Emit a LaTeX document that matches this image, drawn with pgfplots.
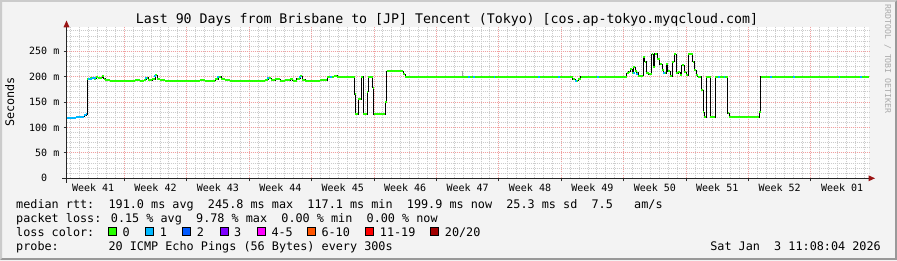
\documentclass[border=0pt]{standalone}
\usepackage{fontspec}
\usepackage{pgfplots}
\pgfplotsset{compat=1.18}
\usepackage{pgfplotstable}
\newfontfamily\mono{DejaVu Sans Mono}
\definecolor{bgc}{HTML}{F3F3F3}
\definecolor{shadea}{HTML}{CBCBCB}
\definecolor{shadeb}{HTML}{999999}
\definecolor{mgrid}{HTML}{F2A0A0}
\definecolor{mingrid}{HTML}{CCCCCC}
\definecolor{arrowc}{HTML}{9A1414}
\definecolor{wmc}{HTML}{AAAAAA}
\definecolor{loss0}{HTML}{26FF00}
\definecolor{loss1}{HTML}{00B8FF}
\definecolor{loss2}{HTML}{0059FF}
\definecolor{loss3}{HTML}{7E00FF}
\definecolor{loss4}{HTML}{FF00FF}
\definecolor{loss6}{HTML}{FF5500}
\definecolor{loss11}{HTML}{FF0000}
\definecolor{loss20}{HTML}{A10000}
\newcommand\titlefont{\mono\fontsize{13.25bp}{15bp}\selectfont}
\newcommand\legfont{\mono\fontsize{11.8bp}{14bp}\selectfont}
\newcommand\tickfont{\mono\fontsize{10bp}{12bp}\selectfont}
\newcommand\wmfont{\mono\fontsize{8.2bp}{10bp}\selectfont}

\pgfplotstableread{
x y
0.06 119
0.39 118
0.73 119
1.07 120
1.40 120
1.74 121
1.96 124
2.19 126
2.33 195
2.64 197
2.86 198
3.08 196
3.31 199
3.53 197
3.76 198
3.98 202
4.15 196
4.32 193
4.88 192
5.44 191
6.00 192
6.56 191
7.12 192
7.68 193
8.24 192
8.69 194
8.92 198
9.14 193
9.59 195
9.93 203
10.15 195
10.49 193
11.05 192
11.61 191
12.17 192
12.73 192
13.29 191
13.85 192
14.41 192
14.97 193
15.53 192
16.09 192
16.65 195
16.99 200
17.33 195
17.78 193
18.34 192
18.90 191
19.46 192
20.02 192
20.58 191
21.14 192
21.70 192
22.26 194
22.60 197
22.93 193
23.38 195
23.94 192
24.50 193
25.06 195
25.39 192
25.84 196
26.19 201
26.41 194
26.75 192
27.31 192
27.87 192
28.43 193
28.99 193
29.21 199
29.55 200
30.00 202
30.34 200
31.23 200
32.19 200
32.30 165
32.41 126
32.73 155
33.08 200
33.29 126
33.70 170
33.85 200
34.32 178
34.43 126
35.75 150
35.91 211
36.84 212
37.59 211
37.74 205
37.96 200
39.70 200
44.36 200
48.61 200
53.10 200
56.58 200
56.75 195
57.03 192
57.36 196
57.65 200
62.75 200
62.83 207
63.03 210
63.20 214
63.42 207
63.57 218
63.76 212
63.93 208
64.09 201
64.43 202
64.68 239
64.87 229
65.04 207
65.32 205
65.62 244
65.80 219
65.99 245
66.22 234
66.55 224
66.78 213
67.00 207
67.23 224
67.45 211
67.68 201
67.90 229
68.13 244
68.35 207
68.58 209
68.80 203
68.99 222
69.25 209
69.48 203
69.73 244
70.04 244
70.21 229
70.38 213
70.60 203
70.77 200
71.10 200
71.21 173
71.38 130
71.49 120
71.77 200
72.17 200
72.22 120
72.78 200
74.04 200
74.13 128
74.30 120
77.59 120
77.66 130
77.85 200
90.00 200
}\medianrtt

\pgfplotstableread{
x y
0.06 119
0.39 118
0.73 119
1.07 120
1.40 120
1.74 121
1.96 124
2.19 126
2.33 126
nan nan
2.41 196
2.86 198
3.31 198
nan nan
8.80 197
9.03 197
nan nan
9.85 201
10.05 201
nan nan
16.90 199
17.10 199
nan nan
22.50 197
22.70 197
nan nan
26.10 200
26.30 200
nan nan
29.50 200
29.80 200
nan nan
44.98 200
45.30 200
nan nan
45.60 200
45.85 200
nan nan
47.90 200
48.10 200
nan nan
52.90 200
53.10 200
nan nan
55.10 200
55.30 200
nan nan
57.00 192
57.20 192
nan nan
59.50 200
59.70 200
nan nan
63.50 207
63.70 207
nan nan
63.90 205
64.10 205
nan nan
66.90 207
67.10 207
nan nan
73.10 200
73.30 200
nan nan
73.70 200
73.90 200
nan nan
78.90 200
79.10 200
nan nan
81.50 200
81.70 200
nan nan
86.60 200
86.80 200
nan nan
89.00 200
89.20 200
}\lossone

\begin{document}
\begin{tikzpicture}[x=1bp,y=1bp]
\useasboundingbox (0,0) rectangle (897,260);
\fill[bgc] (0,0) rectangle (897,260);
\fill[shadea] (0,0) -- (0,260) -- (897,260) -- (895,258) -- (2,258) -- (2,2) -- cycle;
\fill[shadeb] (0,0) -- (897,0) -- (897,260) -- (895,258) -- (895,2) -- (2,2) -- cycle;

\begin{axis}[
  at={(66.5bp,81.7bp)}, anchor=south west,
  scale only axis, width=802.5bp, height=150.8bp,
  xmin=0, xmax=90, ymin=0, ymax=296.6,
  axis background/.style={fill=white},
  axis line style={draw=none},
  tick pos=left, tick align=outside,
  major tick length=3bp, minor tick length=0pt,
  tick style={black!80, line width=0.8bp},
  grid=both,
  major grid style={mgrid, dash pattern=on 1bp off 1bp, line width=0.8bp},
  minor grid style={mingrid, dash pattern=on 1bp off 1bp, line width=0.8bp},
  xtick={6.48,13.48,...,83.48},
  minor xtick={0.48,1.48,...,89.48},
  xticklabels={,,,,,,,,,,,,},
  extra x ticks={2.98,9.98,...,86.98},
  extra x tick labels={Week 41,Week 42,Week 43,Week 44,Week 45,Week 46,Week 47,Week 48,Week 49,Week 50,Week 51,Week 52,Week 01},
  extra x tick style={grid=none, major tick length=0pt},
  xticklabel style={font=\tickfont, anchor=base, inner sep=0pt, yshift=-13bp},
  ytick={0,50,...,250},
  yticklabels={0\hphantom{00},50 m,100 m,150 m,200 m,250 m},
  minor ytick={10,20,...,290},
  yticklabel style={font=\tickfont, anchor=east, inner sep=0pt, xshift=-4bp},
  clip=false,
]
\addplot[gray!70, line width=0.8bp] coordinates {(44.36,200) (44.36,211)};
\addplot[black, line width=0.9bp, const plot mark left] table[x=x,y=y] {\medianrtt};
\addplot[loss0, line width=2bp, jump mark left] table[x=x,y=y] {\medianrtt};
\addplot[loss1, line width=2bp, jump mark left, unbounded coords=jump] table[x=x,y=y] {\lossone};
\end{axis}

% axis lines and arrows
\draw[black!85, line width=1bp] (62,81.7) -- (869,81.7);
\fill[arrowc] (868.5,84.7) -- (875,81.7) -- (868.5,78.7) -- cycle;
\draw[black!85, line width=1bp] (66.5,77.5) -- (66.5,233);
\fill[arrowc] (63.5,232.7) -- (66.5,239.5) -- (69.5,232.7) -- cycle;

% title and labels
\node[anchor=base, font=\titlefont, inner sep=0pt] at (447,236.7) {Last 90 Days from Brisbane to [JP] Tencent (Tokyo) [cos.ap-tokyo.myqcloud.com]};
\node[anchor=base, rotate=90, font=\legfont, inner sep=0pt] at (14,158) {Seconds};
\node[anchor=base, rotate=-90, font=\wmfont, text=wmc, inner sep=0pt] at (885,201) {RRDTOOL / TOBI OETIKER};

% legend
\node[anchor=base west, font=\legfont, inner sep=0pt] at (16,51.5) {median rtt:~~191.0 ms avg~~245.8 ms max~~117.1 ms min~~199.9 ms now~~25.3 ms sd~~7.5~~~am/s};
\node[anchor=base west, font=\legfont, inner sep=0pt] at (16,37.7) {packet loss: 0.15 \% avg~~9.78 \% max~~0.00 \% min~~0.00 \% now};
\node[anchor=base west, font=\legfont, inner sep=0pt] at (16,23.8) {loss color:};
\node[anchor=base west, font=\legfont, inner sep=0pt] at (16,10) {probe:~~~~~~~20 ICMP Echo Pings (56 Bytes) every 300s};
\node[anchor=base east, font=\legfont, inner sep=0pt] at (881,10) {Sat Jan~~3 11:08:04 2026};

\foreach \bx/\bc/\bt in {108.3/loss0/0, 145.7/loss1/1, 182.7/loss2/2, 220/loss3/3, 257.3/loss4/4-5, 307.3/loss6/6-10, 365.7/loss11/11-19, 430.7/loss20/20\slash 20} {
  \filldraw[fill=\bc, draw=black, line width=0.8bp] (\bx,24.3) rectangle ++(8,8);
  \node[anchor=base west, font=\legfont, inner sep=0pt] at (\bx+14,23.8) {\bt};
}
\end{tikzpicture}
\end{document}
